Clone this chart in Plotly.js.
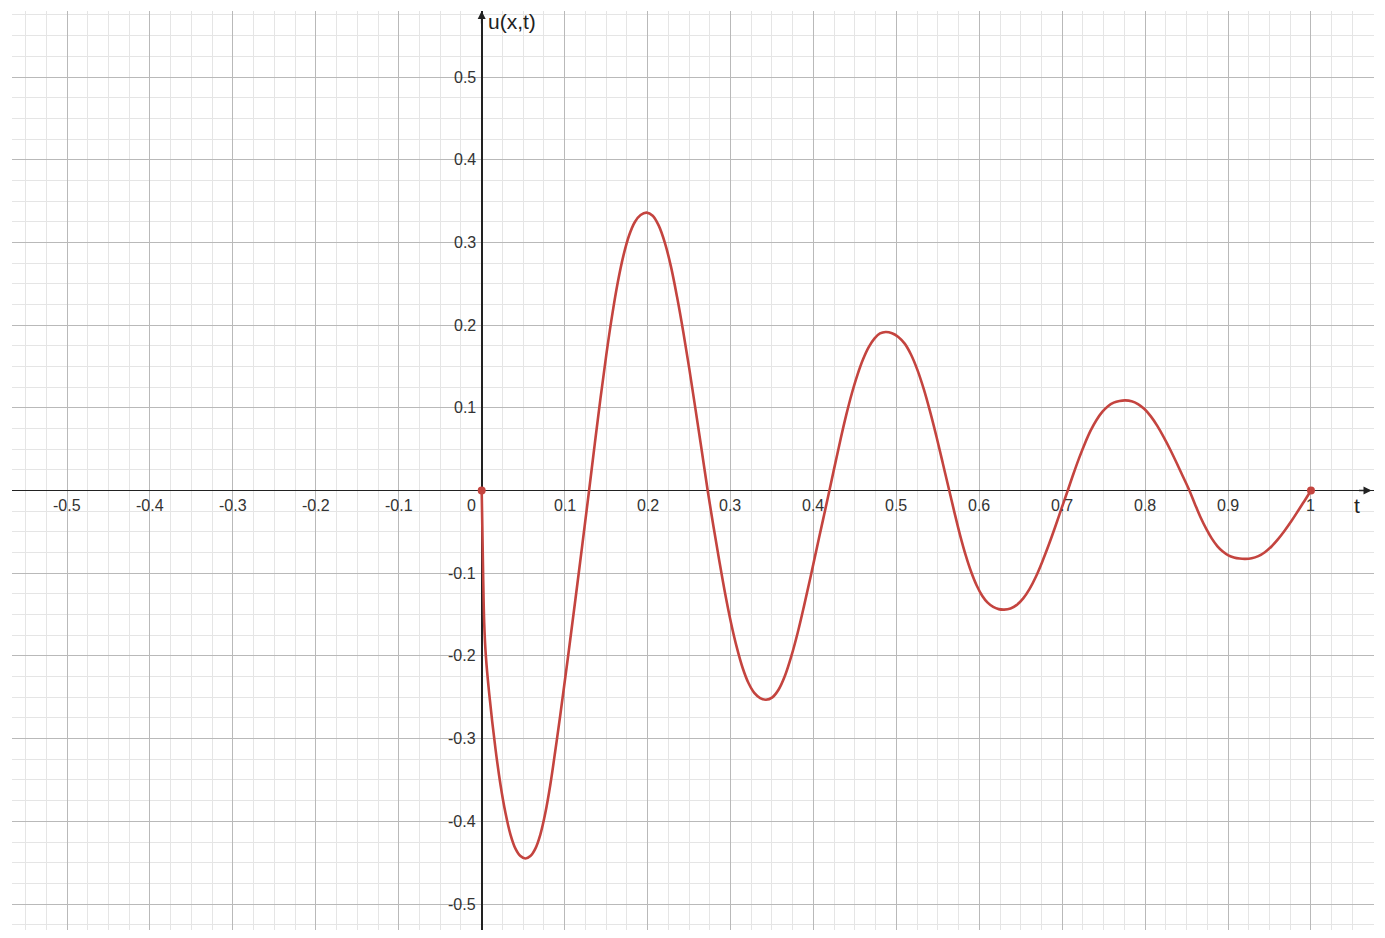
<!DOCTYPE html>
<html>
<head>
<meta charset="utf-8">
<script src="https://cdn.plot.ly/plotly-3.0.1.min.js"></script>
<style>html,body{margin:0;padding:0;background:#fff;}#chart{width:1385px;height:938px;}</style>
</head>
<body>
<div id="chart"></div>
<script>
// Curve samples (t, u pairs)
const tValues = [
  0, 0.0017, 0.003, 0.005, 0.009, 0.0167, 0.0227, 0.0287, 0.0347, 0.0407, 0.0467, 0.0527,
  0.0587, 0.0647, 0.0707, 0.0767, 0.0827, 0.0887, 0.0947, 0.1045, 0.117, 0.1295,
  0.1364, 0.1433, 0.1502, 0.1571, 0.164, 0.1709, 0.1778, 0.1847, 0.1916, 0.1988,
  0.2062, 0.2135, 0.2209, 0.2283, 0.2356, 0.243, 0.2504, 0.2577, 0.2651, 0.2725,
  0.2795, 0.2866, 0.2936, 0.3006, 0.3077, 0.3147, 0.3217, 0.3287, 0.3358, 0.3428,
  0.3505, 0.3581, 0.3658, 0.3734, 0.3811, 0.3887, 0.3964, 0.404, 0.4117, 0.4193,
  0.4261, 0.4329, 0.4396, 0.4464, 0.4532, 0.46, 0.4667, 0.4735, 0.4803, 0.4871,
  0.4948, 0.5024, 0.5101, 0.5178, 0.5255, 0.5331, 0.5408, 0.5485, 0.5561, 0.5638,
  0.5704, 0.577, 0.5837, 0.5903, 0.5969, 0.6035, 0.6101, 0.6168, 0.6234, 0.63,
  0.6377, 0.6453, 0.653, 0.6607, 0.6684, 0.676, 0.6837, 0.6914, 0.699, 0.7067,
  0.7136, 0.7206, 0.7275, 0.7344, 0.7414, 0.7483, 0.7552, 0.7621, 0.7691, 0.776,
  0.7837, 0.7914, 0.7992, 0.8069, 0.8147, 0.8224, 0.8302, 0.8379, 0.8456, 0.8534,
  0.8601, 0.8668, 0.8736, 0.8803, 0.887, 0.8937, 0.9004, 0.9071, 0.9139, 0.9206,
  0.9285, 0.9365, 0.9444, 0.9524, 0.9603, 0.9682, 0.9762, 0.9841, 0.9921, 1.0];
const uValues = [
  0, -0.1, -0.16, -0.2, -0.245, -0.313, -0.356, -0.39, -0.416, -0.433, -0.442, -0.445,
  -0.442, -0.433, -0.416, -0.39, -0.356, -0.315, -0.272, -0.198, -0.1, 0,
  0.0567, 0.112, 0.1638, 0.2106, 0.2512, 0.284, 0.3086, 0.3247, 0.3331, 0.336,
  0.3323, 0.3203, 0.2995, 0.2704, 0.2339, 0.1922, 0.1468, 0.099, 0.0499, 0,
  -0.0435, -0.0855, -0.1248, -0.1598, -0.19, -0.2146, -0.2328, -0.2447, -0.2509, -0.253,
  -0.2501, -0.2406, -0.2237, -0.2003, -0.1717, -0.1395, -0.1051, -0.07, -0.0349, 0,
  0.0316, 0.0626, 0.0914, 0.1176, 0.1402, 0.159, 0.1734, 0.1837, 0.1899, 0.1917,
  0.1902, 0.1857, 0.1776, 0.1642, 0.1456, 0.1226, 0.0951, 0.0647, 0.0327, 0,
  -0.0279, -0.0545, -0.0785, -0.0986, -0.1149, -0.1272, -0.1356, -0.1408, -0.1434, -0.144,
  -0.1426, -0.1383, -0.1304, -0.1189, -0.1039, -0.086, -0.0659, -0.0444, -0.0222, 0,
  0.0203, 0.0398, 0.0573, 0.0727, 0.0853, 0.095, 0.102, 0.1062, 0.1083, 0.109,
  0.108, 0.1046, 0.0985, 0.0896, 0.0781, 0.0645, 0.0496, 0.0336, 0.017, 0,
  -0.0165, -0.0323, -0.0461, -0.0579, -0.0672, -0.0738, -0.0784, -0.081, -0.0823, -0.0827,
  -0.082, -0.0794, -0.0746, -0.0677, -0.0588, -0.0486, -0.0372, -0.0251, -0.0126, 0];
const endPointsT = [0, 1];
const endPointsU = [0, 0];

const xTickVals = [-0.5, -0.4, -0.3, -0.2, -0.1, 0.1, 0.2, 0.3, 0.4, 0.5, 0.6, 0.7, 0.8, 0.9, 1];
const xTickText = ["-0.5", "-0.4", "-0.3", "-0.2", "-0.1", "0.1", "0.2", "0.3", "0.4", "0.5", "0.6", "0.7", "0.8", "0.9", "1"];
const yTickVals = [0.5, 0.4, 0.3, 0.2, 0.1, -0.1, -0.2, -0.3, -0.4, -0.5];
const yTickText = ["0.5", "0.4", "0.3", "0.2", "0.1", "-0.1", "-0.2", "-0.3", "-0.4", "-0.5"];
const xAxisLabel = "t";
const yAxisLabel = "u(x,t)";

const curveColor = "#c4443f";
const labelFont = {family: "Liberation Sans, Arial, sans-serif", size: 16, color: "#333"};
const axisLabelFont = {family: "Liberation Sans, Arial, sans-serif", size: 21, color: "#222"};

const xRange = [-0.5664, 1.076];
const yRange = [-0.5314, 0.5798];

const annotations = [];
xTickVals.forEach((v, i) => annotations.push({
  x: v, y: 0, xref: "x", yref: "y", text: xTickText[i], showarrow: false,
  xanchor: "center", yanchor: "top", yshift: -4, font: labelFont
}));
annotations.push({x: 0, y: 0, xref: "x", yref: "y", text: "0", showarrow: false,
  xanchor: "right", yanchor: "top", xshift: -4, yshift: -4, font: labelFont});
yTickVals.forEach((v, i) => annotations.push({
  x: 0, y: v, xref: "x", yref: "y", text: yTickText[i], showarrow: false,
  xanchor: "right", yanchor: "middle", xshift: -4, font: labelFont
}));
// axis arrows
annotations.push({x: 0, y: yRange[1], xref: "x", yref: "y", ax: 0, ay: 14,
  text: "", showarrow: true, arrowhead: 2, arrowsize: 1, arrowwidth: 1.6, arrowcolor: "#222"});
annotations.push({x: xRange[1] - 0.003, y: 0, xref: "x", yref: "y", ax: -14, ay: 0,
  text: "", showarrow: true, arrowhead: 2, arrowsize: 1, arrowwidth: 1.6, arrowcolor: "#222"});
annotations.push({x: 0, y: yRange[1], xref: "x", yref: "y", text: yAxisLabel, showarrow: false,
  xanchor: "left", yanchor: "top", xshift: 4, yshift: 3, font: axisLabelFont});
annotations.push({x: xRange[1], y: 0, xref: "x", yref: "y", text: xAxisLabel, showarrow: false,
  xanchor: "right", yanchor: "top", xshift: -12, yshift: -1, font: axisLabelFont});

const data = [
  {x: tValues, y: uValues, type: "scatter", mode: "lines",
   line: {color: curveColor, width: 2.6, shape: "spline", smoothing: 1},
   hoverinfo: "skip", showlegend: false},
  {x: endPointsT, y: endPointsU, type: "scatter", mode: "markers",
   marker: {color: curveColor, size: 8}, showlegend: false, hoverinfo: "skip"}
];

const axisCommon = {
  showline: false, ticks: "", showticklabels: false,
  showgrid: true, gridcolor: "#b9b9b9", gridwidth: 1,
  zeroline: true, zerolinecolor: "#222", zerolinewidth: 1.6,
  tick0: 0, dtick: 0.1, fixedrange: true,
  minor: {dtick: 0.025, tick0: 0, showgrid: true, gridcolor: "#e5e5e5", gridwidth: 1, ticks: ""}
};

const layout = {
  width: 1385, height: 938,
  margin: {l: 12, r: 11, t: 11, b: 8, pad: 0},
  paper_bgcolor: "#ffffff", plot_bgcolor: "#ffffff",
  xaxis: Object.assign({}, axisCommon, {range: xRange}),
  yaxis: Object.assign({}, axisCommon, {range: yRange}),
  annotations: annotations,
  showlegend: false
};

Plotly.newPlot("chart", data, layout, {displayModeBar: false, staticPlot: true});
</script>
</body>
</html>
